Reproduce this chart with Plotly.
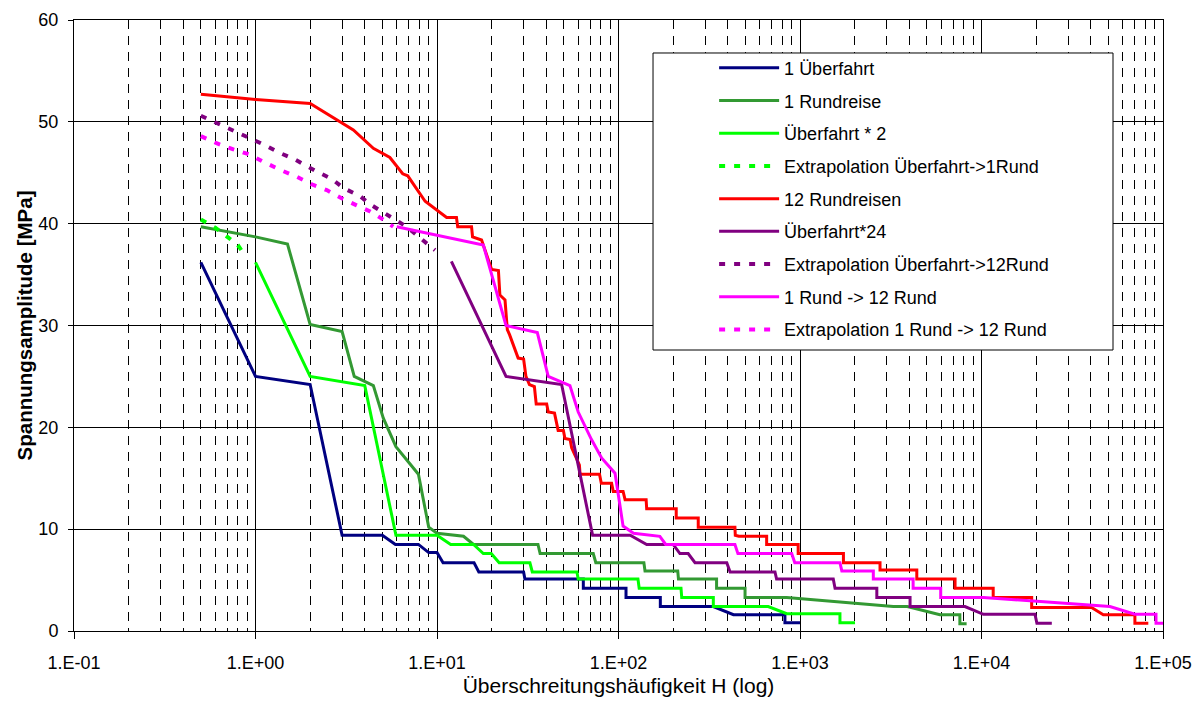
import plotly.graph_objects as go

# ---------------- data ----------------
ueb1_x = [0.5, 1, 2, 3, 5, 5.9, 7.9, 9, 10, 10.8, 16, 17, 30, 30.5, 64, 64, 110, 110, 170, 170, 333, 430, 826, 826, 1000]
ueb1_y = [36.2, 25.0, 24.2, 9.4, 9.4, 8.5, 8.5, 7.7, 7.7, 6.7, 6.7, 5.8, 5.8, 5.1, 5.1, 4.2, 4.2, 3.3, 3.3, 2.4, 2.4, 1.6, 1.6, 0.8, 0.8]

rund1_x = [0.5, 1, 1.5, 2, 3, 3.5, 4.46, 5.06, 5.94, 7.0, 7.9, 9, 10, 14, 15.9, 36, 37, 72.6, 75, 138, 140, 212, 214, 347, 347, 498, 498, 845, 3266, 3900, 5900, 7600, 7600, 8280]
rund1_y = [39.7, 38.7, 38.0, 30.1, 29.4, 25.0, 24.1, 20.9, 18.1, 16.5, 15.4, 10.2, 9.6, 9.3, 8.5, 8.5, 7.6, 7.6, 6.7, 6.7, 5.9, 5.9, 5.1, 5.1, 4.2, 4.2, 3.3, 3.3, 2.4, 2.4, 1.6, 1.6, 0.7, 0.7]

ueb2_x = [1, 2, 4.0, 5.94, 10, 11.9, 15.9, 18, 19.9, 22, 32.5, 33.5, 59, 60, 128, 130, 221, 223, 333, 333, 668, 845, 1660, 1660, 2010]
ueb2_y = [36.2, 25.0, 24.1, 9.4, 9.4, 8.5, 8.5, 7.6, 7.6, 6.7, 6.7, 5.8, 5.8, 5.1, 5.1, 4.2, 4.2, 3.3, 3.3, 2.4, 2.4, 1.7, 1.7, 0.8, 0.8]

extra1_x = [0.5, 0.6, 0.7, 0.8, 0.85, 0.9]
extra1_y = [40.4, 39.6, 38.7, 37.9, 37.2, 36.8]

rund12_x = [0.5, 1, 2, 3, 3.46, 4.46, 5.5, 6.47, 6.9, 8.6, 9.8, 11.3, 12.8, 13, 15.5, 15.7, 17.6, 20, 21.8, 22.2,
            23.7, 24.4, 25.1, 28, 30, 30.9, 32.3, 34.4, 35.2, 40.2, 41, 44.4, 46.5, 49.7, 50.7, 54.1, 55.2, 58.3,
            60.9, 61.4, 78.6, 80.4, 91.6, 93.6, 106, 108.7, 142, 143, 208, 208, 275, 275, 438, 440, 460, 655, 655,
            977, 977, 1735, 1735, 2760, 2760, 4400, 4400, 7150, 7150, 11600, 11600, 18900, 18900, 40400, 46900,
            70000, 70000, 83000]
rund12_y = [52.7, 52.2, 51.8, 49.9, 49.2, 47.4, 46.5, 44.9, 44.7, 42.2, 41.4, 40.6, 40.6, 39.7, 39.7, 38.7, 38.4, 35.5, 35.4, 33.0,
            32.5, 29.6, 29.1, 26.8, 26.7, 25.0, 24.2, 24.0, 22.3, 22.3, 21.5, 21.4, 19.7, 19.7, 18.9, 18.8, 18.0, 17.1,
            16.3, 15.4, 15.4, 14.5, 14.5, 13.7, 13.7, 12.9, 12.9, 12.0, 12.0, 11.1, 11.1, 10.2, 10.2, 9.4, 9.3, 9.3, 8.5,
            8.5, 7.6, 7.6, 6.7, 6.7, 6.0, 6.0, 5.1, 5.1, 4.2, 4.2, 3.3, 3.3, 2.3, 2.3, 1.6,
            1.6, 0.75, 0.75]

ueb24_x = [12, 24, 48.6, 72, 116, 143, 200, 218, 242, 264, 395, 412, 728, 743, 1525, 1560, 2650, 2650, 4040, 4040, 8110, 10240, 19700, 20200, 24400]
ueb24_y = [36.3, 25.0, 24.2, 9.4, 9.4, 8.5, 8.5, 7.6, 7.6, 6.7, 6.7, 5.8, 5.8, 5.1, 5.1, 4.2, 4.2, 3.3, 3.3, 2.4, 2.4, 1.64, 1.64, 0.75, 0.75]

extra12_x = [0.5, 0.61, 0.74, 0.9, 1.1, 1.34, 1.65, 2.13, 2.63, 3.05, 3.77, 4.28, 5.28, 6.8, 8.06, 9.75]
extra12_y = [50.6, 49.9, 49.2, 48.5, 47.8, 47.0, 46.3, 45.2, 44.4, 43.5, 42.7, 41.9, 40.9, 39.7, 38.6, 37.4]

r1r12_x = [6, 18, 24, 35.7, 41, 54, 60, 71, 80.7, 95.7, 106, 121, 169, 182, 438, 455, 900, 936, 1660, 1700, 2535, 2535, 4200, 4200, 5960, 5960, 10240, 51000, 70000, 91500, 91500, 100000]
r1r12_y = [39.7, 37.9, 30.0, 29.3, 25.0, 24.1, 21.5, 18.8, 17.0, 15.5, 10.3, 9.6, 9.3, 8.5, 8.5, 7.6, 7.6, 6.7, 6.7, 5.9, 5.9, 5.1, 5.1, 4.2, 4.2, 3.3, 3.3, 2.4, 1.64, 1.64, 0.75, 0.75]

extraR_x = [0.5, 0.61, 0.755, 0.925, 1.1, 1.36, 1.69, 2.08, 2.47, 2.98, 3.61, 4.28, 4.96, 5.74]
extraR_y = [48.6, 47.9, 47.3, 46.8, 46.1, 45.3, 44.6, 43.8, 43.3, 42.5, 41.8, 41.2, 40.5, 39.7]

x_tickvals = [0.1, 1, 10, 100, 1000, 10000, 100000]
x_ticktext = ["1.E-01", "1.E+00", "1.E+01", "1.E+02", "1.E+03", "1.E+04", "1.E+05"]

# ---------------- figure ----------------
FONT = "Arial, 'Liberation Sans', sans-serif"
DOT = "6px,9px"

series = [
    ("1 Überfahrt", ueb1_x, ueb1_y, "#000080", "solid", 3),
    ("1 Rundreise", rund1_x, rund1_y, "#339933", "solid", 3),
    ("Überfahrt * 2", ueb2_x, ueb2_y, "#00FF00", "solid", 3),
    ("Extrapolation Überfahrt->1Rund", extra1_x, extra1_y, "#00FF00", DOT, 4),
    ("12 Rundreisen", rund12_x, rund12_y, "#FF0000", "solid", 3),
    ("Überfahrt*24", ueb24_x, ueb24_y, "#800080", "solid", 3),
    ("Extrapolation Überfahrt->12Rund", extra12_x, extra12_y, "#800080", DOT, 4),
    ("1 Rund -> 12 Rund", r1r12_x, r1r12_y, "#FF00FF", "solid", 3),
    ("Extrapolation 1 Rund -> 12 Rund", extraR_x, extraR_y, "#FF00FF", DOT, 4),
]

fig = go.Figure()
for i, (name, xs, ys, col, dash, w) in enumerate(series):
    fig.add_trace(go.Scatter(x=xs, y=ys, mode="lines", name=name, legendgroup=f"g{i}",
                             line=dict(color=col, dash=dash, width=w)))

minor_vals = [m * 10 ** e for e in range(-1, 5) for m in range(2, 10)]

# page body has an 8px margin, so the figure is 8px smaller and margins are shifted by 8px
fig.update_layout(
    width=1196, height=702,
    margin=dict(l=66, r=41, t=12, b=79),
    paper_bgcolor="white", plot_bgcolor="white",
    font=dict(family=FONT, color="black", size=17),
    showlegend=True,
    legend=dict(x=0.5878, xanchor="left", y=0.9515, yanchor="top",
                bgcolor="rgba(0,0,0,0)", borderwidth=0,
                font=dict(family=FONT, size=18, color="black"),
                tracegroupgap=6.3, itemwidth=60),
    shapes=[dict(type="rect", xref="paper", yref="paper",
                 x0=0.5317, x1=0.9541, y0=0.4599, y1=0.946,
                 line=dict(color="black", width=1), fillcolor="white", layer="above")],
)

fig.update_xaxes(
    type="log", range=[-1, 5], automargin=False,
    tickmode="array", tickvals=x_tickvals, ticktext=x_ticktext,
    ticks="outside", ticklen=7, tickcolor="black", tickwidth=1,
    ticklabelstandoff=8,
    tickfont=dict(size=18),
    showgrid=True, gridcolor="black", gridwidth=1,
    minor=dict(tickmode="array", tickvals=minor_vals, showgrid=True,
               gridcolor="black", gridwidth=1, griddash="9px,7px", ticks=""),
    showline=True, linecolor="black", linewidth=1, mirror=True,
    zeroline=False,
    title=dict(text="Überschreitungshäufigkeit H (log)", font=dict(size=21), standoff=6),
)
fig.update_yaxes(
    range=[0, 60], tickmode="linear", tick0=0, dtick=10, automargin=False,
    ticks="outside", ticklen=5, tickcolor="black",
    ticklabelstandoff=6,
    tickfont=dict(size=18),
    showgrid=True, gridcolor="black", gridwidth=1,
    showline=True, linecolor="black", linewidth=1, mirror=True,
    zeroline=False,
    title=dict(text="<b>Spannungsamplitude [MPa]</b>", font=dict(size=20.5), standoff=0),
)

fig.write_html("out.html")
